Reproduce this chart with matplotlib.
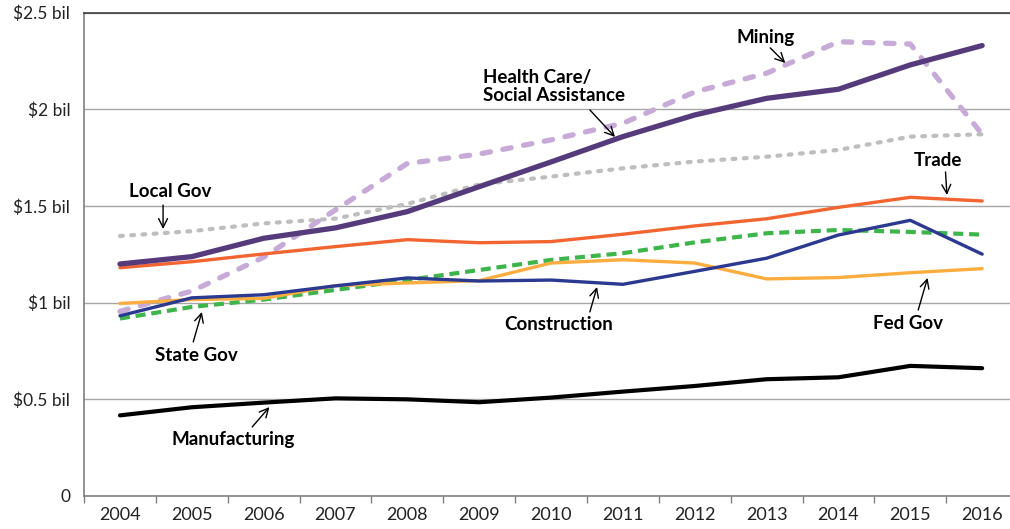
import numpy as np
import matplotlib.pyplot as plt

years = ["2004", "2005", "2006", "2007", "2008", "2009", "2010",
         "2011", "2012", "2013", "2014", "2015", "2016"]

# wages by industry, billions of dollars
health_care = [1.20, 1.238, 1.333, 1.387, 1.471, 1.600, 1.728, 1.859, 1.971, 2.057, 2.104, 2.230, 2.330]
mining = [0.955, 1.060, 1.235, 1.480, 1.720, 1.769, 1.842, 1.928, 2.090, 2.187, 2.350, 2.338, 1.871]
local_gov = [1.345, 1.370, 1.410, 1.435, 1.511, 1.612, 1.652, 1.695, 1.730, 1.755, 1.790, 1.859, 1.871]
trade = [1.181, 1.212, 1.252, 1.290, 1.326, 1.310, 1.316, 1.354, 1.397, 1.434, 1.493, 1.545, 1.526]
state_gov = [0.918, 0.978, 1.016, 1.066, 1.117, 1.169, 1.221, 1.256, 1.312, 1.359, 1.376, 1.366, 1.352]
construction = [0.932, 1.025, 1.041, 1.087, 1.128, 1.112, 1.117, 1.095, 1.162, 1.230, 1.350, 1.426, 1.251]
fed_gov = [0.996, 1.016, 1.022, 1.088, 1.102, 1.114, 1.205, 1.222, 1.205, 1.123, 1.130, 1.155, 1.176]
manufacturing = [0.417, 0.459, 0.483, 0.505, 0.500, 0.485, 0.509, 0.540, 0.569, 0.604, 0.614, 0.673, 0.661]

plt.rcParams["font.family"] = ["Lato", "DejaVu Sans"]

fig = plt.figure(figsize=(10.1, 5.29), dpi=100)
ax = fig.add_axes([0.0832, 0.0624, 0.9248, 0.9136])

x = np.arange(len(years))

ax.plot(x, local_gov, color="#BEBEBE", lw=3.0, dashes=(0.7, 2.0),
        dash_capstyle="round", zorder=3)
ax.plot(x, mining, color="#C7AAD7", lw=3.8, dashes=(1.6, 2.4),
        dash_capstyle="round", zorder=3)
ax.plot(x, state_gov, color="#3DB54A", lw=3.0, dashes=(2.4, 1.4), zorder=3)
ax.plot(x, fed_gov, color="#FBAD40", lw=2.4, solid_capstyle="round", zorder=4)
ax.plot(x, construction, color="#2B3990", lw=2.4, solid_capstyle="round", zorder=4)
ax.plot(x, trade, color="#F26531", lw=2.4, solid_capstyle="round", zorder=4)
ax.plot(x, health_care, color="#553A7C", lw=3.8, solid_capstyle="round", zorder=5)
ax.plot(x, manufacturing, color="black", lw=3.0, solid_capstyle="round", zorder=4)

ax.set_xlim(-0.5, len(years) - 0.5)
ax.set_ylim(0, 2.5)

ax.set_yticks([0, 0.5, 1, 1.5, 2, 2.5])
ax.set_yticklabels(["0", "$0.5 bil", "$1 bil", "$1.5 bil", "$2 bil", "$2.5 bil"],
                   fontsize=12.5, color="#222222")
ax.set_xticks(x)
ax.set_xticklabels(years, fontsize=13, color="#222222")
ax.set_xticks(np.arange(-0.5, len(years)), minor=True)
ax.tick_params(axis="x", which="major", length=0, pad=8)
ax.tick_params(axis="x", which="minor", length=5, color="#808080", width=1)
ax.tick_params(axis="y", length=0, pad=10)

ax.grid(axis="y", color="#A6A6A6", lw=1.0)
ax.set_axisbelow(True)
for side in ["left", "bottom"]:
    ax.spines[side].set_color("#808080")
    ax.spines[side].set_linewidth(1.2)
ax.spines["top"].set_color("#404040")
ax.spines["top"].set_linewidth(1.2)
ax.spines["right"].set_visible(False)

# series labels with pointer arrows
labels = [
    ("Mining", (8.98, 2.37), (9.05, 2.318), (9.26, 2.24), "center"),
    ("Health Care/\nSocial Assistance", (5.05, 2.118), (6.54, 1.997), (6.89, 1.857), "left"),
    ("Trade", (11.39, 1.738), (11.49, 1.676), (11.51, 1.557), "center"),
    ("Local Gov", (0.70, 1.573), (0.60, 1.505), (0.60, 1.381), "center"),
    ("State Gov", (1.06, 0.729), (1.02, 0.797), (1.14, 0.952), "center"),
    ("Manufacturing", (1.57, 0.29), (1.84, 0.357), (2.08, 0.46), "center"),
    ("Construction", (6.10, 0.885), (6.54, 0.952), (6.64, 1.081), "center"),
    ("Fed Gov", (10.97, 0.89), (11.11, 0.962), (11.24, 1.128), "center"),
]
for text, pos, tail, head, ha in labels:
    ax.text(pos[0], pos[1], text, ha=ha, va="center", fontsize=13.5,
            fontweight="bold", linespacing=1.1, zorder=6)
    ax.annotate("", xy=head, xytext=tail,
                arrowprops=dict(arrowstyle="->", color="black", lw=1.0,
                                mutation_scale=16, shrinkA=0, shrinkB=0),
                zorder=6)

fig.savefig("out.png", dpi=100)
